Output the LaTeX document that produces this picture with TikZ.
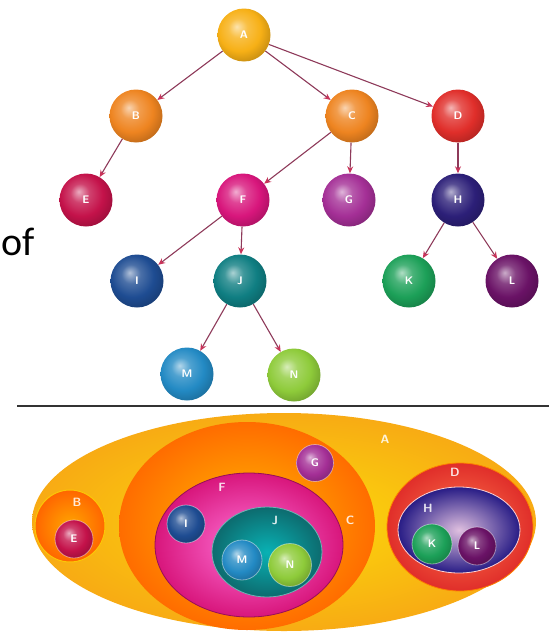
\documentclass[tikz,border=0pt]{standalone}
\usepackage{fontspec}
\setmainfont{Carlito}
\usetikzlibrary{arrows.meta}
\definecolor{cA}{HTML}{F7B016}
\definecolor{cB}{HTML}{EE8420}
\definecolor{cC}{HTML}{EE8420}
\definecolor{cD}{HTML}{E02E2A}
\definecolor{cE}{HTML}{C4124A}
\definecolor{cF}{HTML}{D8167C}
\definecolor{cG}{HTML}{A42F96}
\definecolor{cH}{HTML}{2C1F78}
\definecolor{cI}{HTML}{1E4C92}
\definecolor{cJ}{HTML}{0F7E82}
\definecolor{cK}{HTML}{1CA058}
\definecolor{cL}{HTML}{6A1266}
\definecolor{cM}{HTML}{238AC4}
\definecolor{cN}{HTML}{8ECB3A}
\definecolor{arrowc}{HTML}{8E3A5A}
\definecolor{tipc}{HTML}{C8345A}
\colorlet{glosscol}{red}
\pgfdeclareradialshading[glosscol]{gloss}{\pgfqpoint{-7bp}{8bp}}{%
  color(0bp)=(glosscol!35!white); color(9bp)=(glosscol!80!white);
  color(20bp)=(glosscol); color(30bp)=(glosscol!80!black); color(50bp)=(glosscol!70!black)}
\tikzset{
  gl/.style={/utils/exec={\colorlet{glosscol}{#1}}, shading=gloss},
  sphere/.style={circle, minimum size=53pt, inner sep=0pt, gl=#1,
    text=white, font=\sffamily\bfseries\fontsize{11}{11}\selectfont},
  smallsphere/.style={circle, minimum size=#1, inner sep=0pt, draw=white, draw opacity=0.45, line width=0.8pt,
    text=white, font=\sffamily\bfseries\fontsize{11}{11}\selectfont},
  arr/.style={draw=arrowc, line width=1.1pt, -{Stealth[length=7pt,width=6pt,fill=tipc,color=tipc]}},
  lbl/.style={text=white, text opacity=0.85, inner sep=0pt, font=\sffamily\bfseries\fontsize{12}{12}\selectfont}
}
\begin{document}
\begin{tikzpicture}[x=1pt,y=-1pt]
\useasboundingbox (0,0) rectangle (549,637);
% ---------- tree ----------
\node[sphere=cA] (A) at (244,35) {A};
\node[sphere=cB] (B) at (136,116) {B};
\node[sphere=cC] (C) at (352,116) {C};
\node[sphere=cD] (D) at (458,116) {D};
\node[sphere=cE] (E) at (86,200) {E};
\node[sphere=cF] (F) at (243,200) {F};
\node[sphere=cG] (G) at (349,200) {G};
\node[sphere=cH] (H) at (458,200) {H};
\node[sphere=cI] (I) at (137,281) {I};
\node[sphere=cJ] (J) at (240,281) {J};
\node[sphere=cK] (K) at (409,281) {K};
\node[sphere=cL] (L) at (512,281) {L};
\node[sphere=cM] (M) at (187,374) {M};
\node[sphere=cN] (N) at (294,375) {N};
\draw[arr] (A) -- (B);
\draw[arr] (A) -- (C);
\draw[arr] (A) -- (D);
\draw[arr] (B) -- (E);
\draw[arr] (C) -- (F);
\draw[arr] (C) -- (G);
\draw[arr] (D) -- (H);
\draw[arr] (F) -- (I);
\draw[arr] (F) -- (J);
\draw[arr] (H) -- (K);
\draw[arr] (H) -- (L);
\draw[arr] (J) -- (M);
\draw[arr] (J) -- (N);
% ---------- text and separator ----------
\node[anchor=base west, inner sep=0pt, font=\fontsize{40}{40}\selectfont] (of) at (1,255) {of};
\coordinate (l1) at (17,406);
\coordinate (l2) at (549,406);
\draw[line width=2pt, black!80] (l1) -- (l2);
% ---------- nested sets ----------
\shade[inner color=yellow!55!cA, outer color=cA!90!orange] (284,522) ellipse [x radius=252, y radius=109];
\shade[inner color=orange!55!yellow, outer color=orange!85!red] (247,526) ellipse [x radius=128, y radius=104];
\shade[inner color=orange!70!yellow, outer color=orange!80!red, draw=yellow!60!orange, line width=1pt] (70,526) ellipse [x radius=35, y radius=36];
\shade[inner color=pink!60!magenta, outer color=cF, draw=cF!70!black, line width=0.8pt] (249,545) ellipse [x radius=94, y radius=72];
\shade[inner color=cyan!40!cJ, outer color=cJ!85!black, draw=cJ!60!white, line width=0.8pt] (267,552) ellipse [x radius=55, y radius=45];
\shade[inner color=red!50!orange!70, outer color=cD, draw=orange, line width=0.8pt] (460,527) ellipse [x radius=73, y radius=64];
\shade[inner color=violet!25!white, outer color=cH!90!blue, draw=pink!70!white, line width=0.8pt] (459,530) ellipse [x radius=61, y radius=43];
\node[smallsphere=38pt, gl=cE] (bE) at (74,539) {E};
\node[smallsphere=37pt, gl=cG] (bG) at (315,463) {G};
\node[smallsphere=38pt, gl=cI] (bI) at (186,524) {I};
\node[smallsphere=40pt, gl=cM] (bM) at (242,560) {M};
\node[smallsphere=43pt, gl=cN] (bN) at (290,565) {N};
\node[smallsphere=40pt, gl=cK] (bK) at (432,544) {K};
\node[smallsphere=38pt, gl=cL] (bL) at (477,546) {L};
\node[lbl] (tA) at (385,439) {A};
\node[lbl] (tB) at (77,502) {B};
\node[lbl] (tC) at (350,520) {C};
\node[lbl] (tD) at (455,472) {D};
\node[lbl] (tF) at (222,487) {F};
\node[lbl] (tH) at (428,508) {H};
\node[lbl] (tJ) at (275,520) {J};
\end{tikzpicture}
\end{document}
